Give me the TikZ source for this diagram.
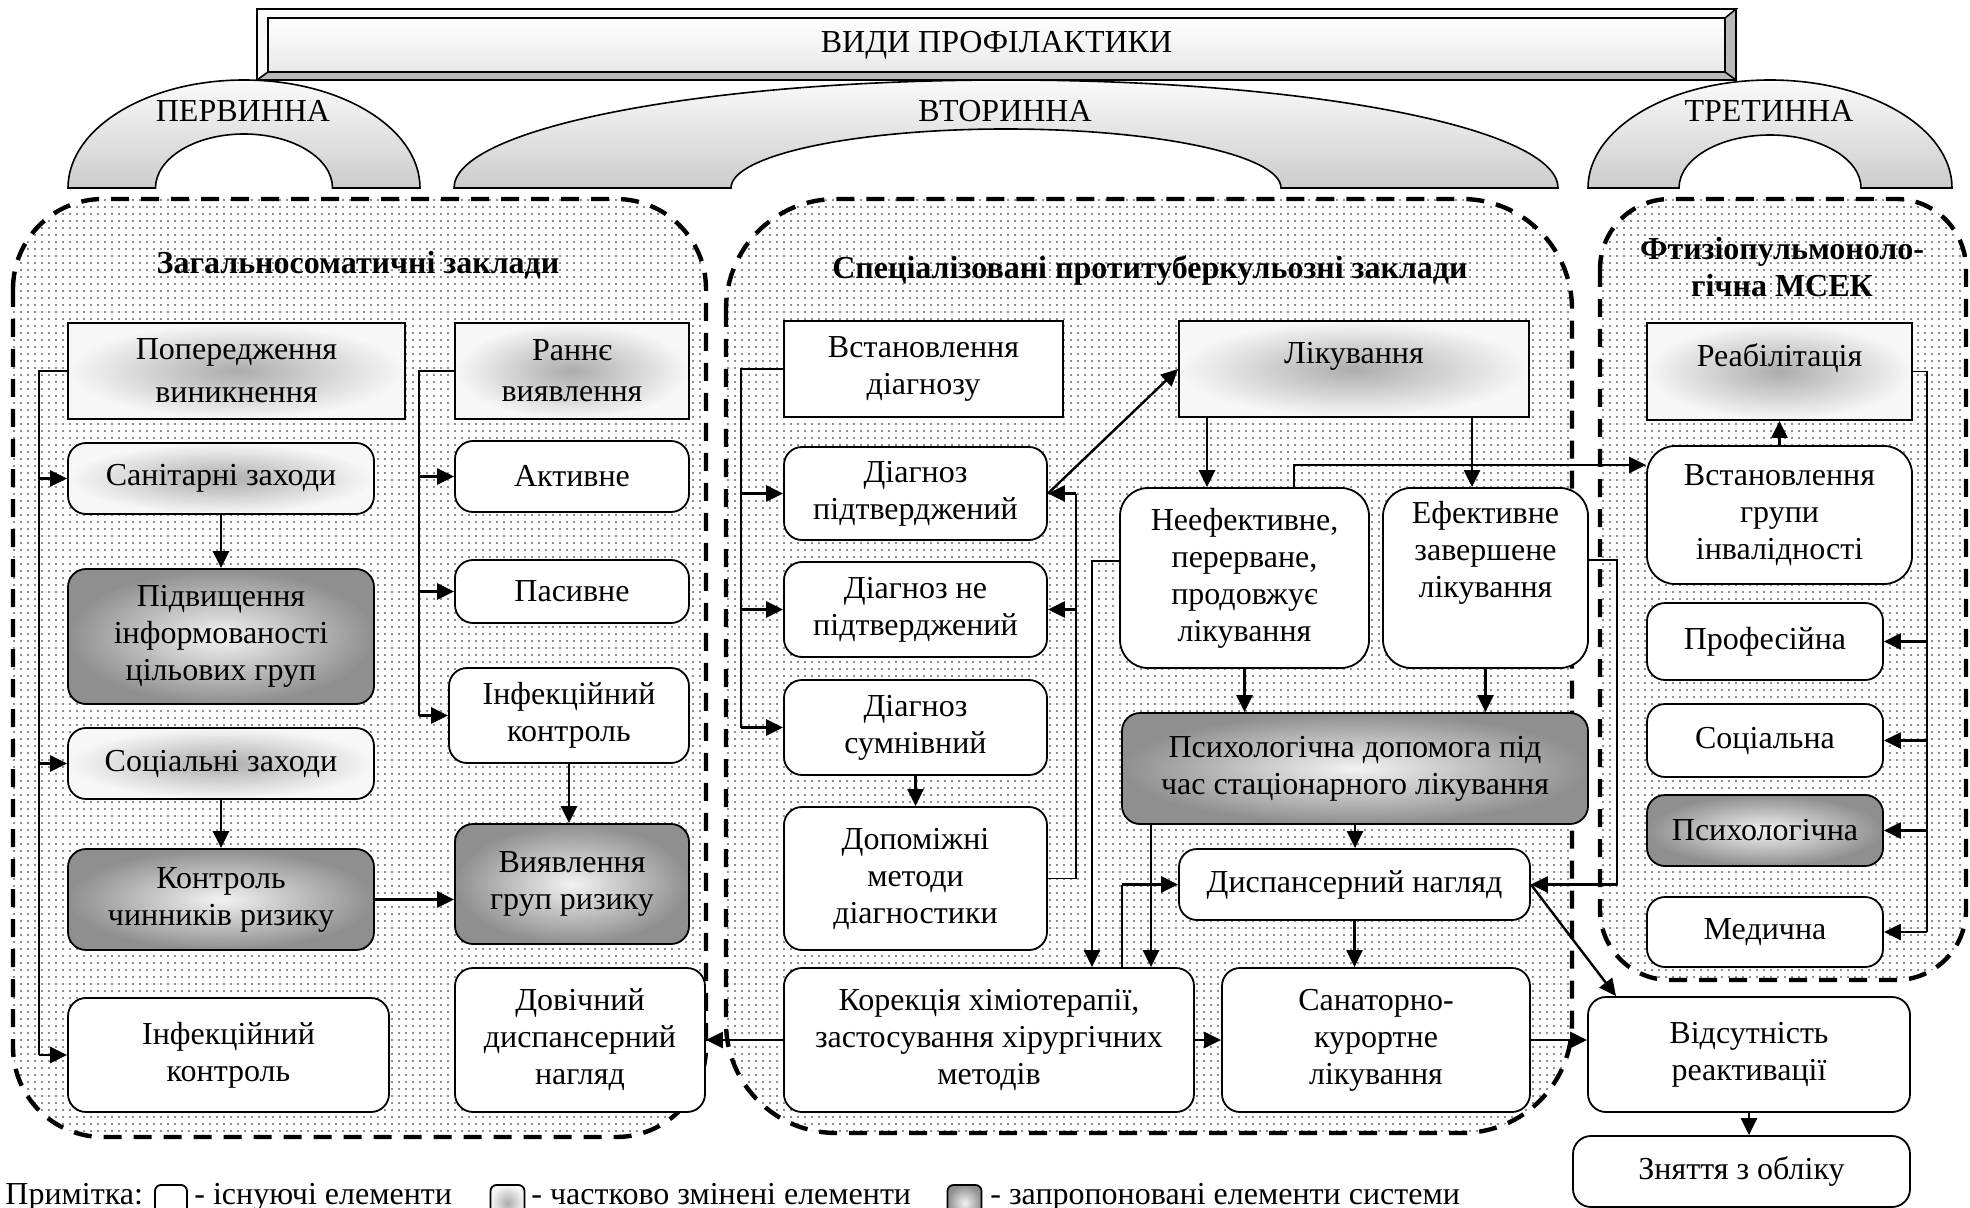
\documentclass[tikz,border=0pt]{standalone}
\usepackage{fontspec}
\setmainfont{Liberation Serif}
\usetikzlibrary{arrows.meta, calc, patterns.meta, positioning}

\begin{document}
\begin{tikzpicture}[x=0.5pt, y=-0.5pt,
    every node/.style={font=\fontsize{16}{18.5}\selectfont, align=center, inner sep=2pt},
    box/.style={draw, line width=0.9pt},
    oldbox/.style={box, rounded corners=9pt, fill=white},
    oldrect/.style={box, fill=white},
    partbox/.style={box, rounded corners=9pt, inner color=gray!65, outer color=gray!6},
    partrect/.style={box, inner color=gray!65, outer color=gray!6},
    newbox/.style={box, rounded corners=9pt, inner color=gray!10, outer color=gray!88},
    head/.style={font=\fontsize{16}{18.5}\selectfont\bfseries},
    toptext/.style={text depth=16pt},
    zone/.style={line width=2.2pt, dash pattern=on 9pt off 6pt,
        pattern={Dots[distance=3.5pt, radius=0.55pt]}, pattern color=black!60},
    arch/.style={draw, line width=0.8pt, top color=gray!4, bottom color=gray!40},
    arr/.style={-{Triangle[length=8.5pt, width=8pt]}, line width=1.2pt},
    link/.style={line width=0.7pt}]
    \useasboundingbox (0,0) rectangle (1970,1208);

    % dotted zones
    \draw[zone, rounded corners=45pt] (13,199) rectangle (706,1137);
    \draw[zone, rounded corners=55pt] (726,199) rectangle (1572,1133);
    \draw[zone, rounded corners=35pt] (1600,199) rectangle (1966,980);

    % banner
    \filldraw[line width=0.8pt, fill=gray!55] (257,9) rectangle (1736,80);
    \filldraw[line width=0.8pt, fill=gray!5] (257,9) -- (1736,9) -- (1725,18) -- (268,18) -- (268,72) -- (257,80) -- cycle;
    \draw[line width=0.8pt] (1725,72) -- (1736,80);
    \node[box, top color=white, bottom color=gray!18, minimum width=728.5pt, minimum height=27pt] (kinds) at (996.5,45) {ВИДИ ПРОФІЛАКТИКИ};

    % arches
    \draw[arch] (68,188) arc[start angle=180, end angle=0, x radius=88pt, y radius=54pt]
        -- (332.5,188) arc[start angle=0, end angle=180, x radius=44.25pt, y radius=27pt] -- cycle;
    \draw[arch] (454,188) arc[start angle=180, end angle=0, x radius=276pt, y radius=54pt]
        -- (1281,188) arc[start angle=0, end angle=180, x radius=137.5pt, y radius=29.5pt] -- cycle;
    \draw[arch] (1588,188) arc[start angle=180, end angle=0, x radius=91pt, y radius=54pt]
        -- (1861,188) arc[start angle=0, end angle=180, x radius=45.5pt, y radius=26.5pt] -- cycle;
    \node (lvl1) at (243,111) {ПЕРВИННА};
    \node (lvl2) at (1005,111) {ВТОРИННА};
    \node (lvl3) at (1769,111) {ТРЕТИННА};

    % headings
    \node[head] (zone1) at (358,265) {Загальносоматичні заклади};
    \node[head] (zone2) at (1150,271) {Спеціалізовані протитуберкульозні заклади};
    \node[head] (zone3) at (1782,267) {Фтизіопульмоноло-\\гічна МСЕК};

    % general institutions
    \node[partrect, minimum width=168.5pt, minimum height=48pt] (prevent) at (236.5,371) {Попередження\\[3pt]виникнення};
    \node[partrect, minimum width=117pt, minimum height=48pt] (early) at (572,371) {Раннє\\[2pt]виявлення};
    \node[partbox, minimum width=153pt, minimum height=35.5pt] (sanit) at (221,478.5) {Санітарні заходи};
    \node[oldbox, minimum width=117pt, minimum height=35.5pt] (active) at (572,476.5) {Активне};
    \node[newbox, minimum width=153pt, minimum height=67.5pt] (inform) at (221,636.5) {Підвищення\\інформованості\\цільових груп};
    \node[oldbox, minimum width=117pt, minimum height=31.5pt] (passive) at (572,591.5) {Пасивне};
    \node[oldbox, minimum width=120pt, minimum height=47.5pt] (infctrlA) at (569,715.5) {Інфекційний\\контроль};
    \node[partbox, minimum width=153pt, minimum height=35.5pt] (social) at (221,763.5) {Соціальні заходи};
    \node[newbox, minimum width=153pt, minimum height=50.5pt] (riskctrl) at (221,899.5) {Контроль\\чинників ризику};
    \node[newbox, minimum width=117pt, minimum height=60pt] (riskgrp) at (572,884) {Виявлення\\груп ризику};
    \node[oldbox, minimum width=160.5pt, minimum height=57pt] (infctrlB) at (228.5,1055) {Інфекційний\\контроль};
    \node[oldbox, minimum width=125pt, minimum height=72pt] (lifelong) at (580,1040) {Довічний\\диспансерний\\нагляд};

    % tuberculosis institutions
    \node[oldrect, minimum width=139.5pt, minimum height=48pt] (diag) at (923.5,369) {Встановлення\\діагнозу};
    \node[partrect, toptext, minimum width=175pt, minimum height=48pt] (treat) at (1354,369) {Лікування};
    \node[oldbox, minimum width=131.5pt, minimum height=46.5pt] (dconf) at (915.5,493.5) {Діагноз\\підтверджений};
    \node[oldbox, minimum width=131.5pt, minimum height=47.5pt] (dnot) at (915.5,609.5) {Діагноз не\\підтверджений};
    \node[oldbox, minimum width=131.5pt, minimum height=47.5pt] (ddoubt) at (915.5,727.5) {Діагноз\\сумнівний};
    \node[oldbox, minimum width=131.5pt, minimum height=71.5pt] (aux) at (915.5,878.5) {Допоміжні\\методи\\діагностики};
    \node[oldbox, minimum width=205pt, minimum height=72pt] (correct) at (989,1040) {Корекція хіміотерапії,\\застосування хірургічних\\методів};
    \node[oldbox, minimum width=154pt, minimum height=72pt] (sanat) at (1376,1040) {Санаторно-\\курортне\\лікування};
    \node[oldbox, minimum width=175.5pt, minimum height=35.5pt] (dispens) at (1354.5,884.5) {Диспансерний нагляд};
    \node[newbox, minimum width=233pt, minimum height=55.5pt] (psyhelp) at (1355,768.5) {Психологічна допомога під\\час стаціонарного лікування};
    \node[oldbox, rounded corners=14pt, minimum width=124.5pt, minimum height=90pt] (ineff) at (1244.5,578) {Неефективне,\\перерване,\\продовжує\\лікування};
    \node[oldbox, rounded corners=14pt, minimum width=102.5pt, minimum height=90pt] (eff) at (1485.5,578) {Ефективне\\завершене\\лікування\\[10pt]};

    % MSEK
    \node[partrect, toptext, minimum width=132.5pt, minimum height=48.5pt] (rehab) at (1779.5,371.5) {Реабілітація};
    \node[oldbox, rounded corners=14pt, minimum width=132.5pt, minimum height=69pt] (disab) at (1779.5,515) {Встановлення\\групи\\інвалідності};
    \node[oldbox, minimum width=118pt, minimum height=38.5pt] (prof) at (1765,641.5) {Професійна};
    \node[oldbox, minimum width=118pt, minimum height=36.5pt] (socr) at (1765,740.5) {Соціальна};
    \node[newbox, minimum width=118pt, minimum height=35.5pt] (psyr) at (1765,830.5) {Психологічна};
    \node[oldbox, minimum width=118pt, minimum height=35pt] (med) at (1765,932) {Медична};
    \node[oldbox, minimum width=161pt, minimum height=57.5pt] (noreact) at (1749,1054.5) {Відсутність\\реактивації};
    \node[oldbox, minimum width=168.5pt, minimum height=35.5pt] (dereg) at (1741.5,1171.5) {Зняття з обліку};

    % trunks
    \coordinate (pvtrunk) at (39,0);
    \coordinate (evtrunk) at (419,0);
    \coordinate (dgtrunk) at (741,0);
    \coordinate (axtrunk) at (1076,0);
    \coordinate (iftrunk) at (1092,0);
    \coordinate (crtrunk) at (1122,0);
    \coordinate (phtrunk) at (1151,0);
    \coordinate (tiX) at (1207,0);
    \coordinate (idX) at (1294,0);
    \coordinate (teX) at (1472,0);
    \coordinate (eftrunk) at (1617,0);
    \coordinate (rhtrunk) at (1927,0);

    % general connectors
    \draw[link] (prevent.west) -| (infctrlB.west -| pvtrunk);
    \foreach \t in {sanit, social, infctrlB}
        \draw[arr] (\t.west -| pvtrunk) -- (\t.west);
    \draw[link] (early.west) -| (infctrlA.west -| evtrunk);
    \foreach \t in {active, passive, infctrlA}
        \draw[arr] (\t.west -| evtrunk) -- (\t.west);
    \draw[arr] (sanit.south) -- (inform.north);
    \draw[arr] (social.south) -- (riskctrl.north);
    \draw[arr] (infctrlA.south) -- (infctrlA.south |- riskgrp.north);
    \draw[arr] (riskctrl.east) -- (riskctrl.east -| riskgrp.west);

    % diagnosis connectors
    \draw[link] (diag.west) -| (ddoubt.west -| dgtrunk);
    \foreach \t in {dconf, dnot, ddoubt}
        \draw[arr] (\t.west -| dgtrunk) -- (\t.west);
    \draw[arr] (dconf.east) -- (treat.west);
    \draw[link] (aux.east) -| (dconf.east -| axtrunk);
    \draw[arr] (dconf.east -| axtrunk) -- (dconf.east);
    \draw[arr] (dnot.east -| axtrunk) -- (dnot.east);
    \draw[arr] (ddoubt.south) -- (aux.north);

    % treatment connectors
    \draw[arr] (treat.south -| tiX) -- (ineff.north -| tiX);
    \draw[arr] (treat.south -| teX) -- (eff.north -| teX);
    \draw[arr] (ineff.north -| idX) |- ([yshift=25pt]disab.west);
    \draw[arr] ([yshift=8.5pt]ineff.west) -| (correct.north -| iftrunk);
    \draw[link] ([yshift=9pt]eff.east) -| (dispens.east -| eftrunk);
    \draw[arr] (dispens.east -| eftrunk) -- (dispens.east);
    \draw[arr] (ineff.south) -- (ineff.south |- psyhelp.north);
    \draw[arr] (eff.south) -- (eff.south |- psyhelp.north);
    \draw[arr] (psyhelp.south) -- (psyhelp.south |- dispens.north);
    \draw[arr] (psyhelp.south -| phtrunk) -- (correct.north -| phtrunk);
    \draw[link] (correct.north -| crtrunk) -- (dispens.west -| crtrunk);
    \draw[arr] (dispens.west -| crtrunk) -- (dispens.west);
    \draw[arr] (dispens.south) -- (dispens.south |- sanat.north);
    \draw[arr] (correct.east) -- (sanat.west);
    \draw[arr] (correct.west) -- (correct.west -| lifelong.east);
    \draw[arr] (sanat.east) -- (sanat.east -| noreact.west);
    \draw[arr] (dispens.east) -- ([xshift=-66.5pt]noreact.north);
    \draw[arr] (noreact.south) -- (noreact.south |- dereg.north);

    % rehabilitation connectors
    \draw[arr] (disab.north) -- (rehab.south);
    \draw[link] (rehab.east) -| (med.east -| rhtrunk);
    \foreach \t in {prof, socr, psyr, med}
        \draw[arr] (\t.east -| rhtrunk) -- (\t.east);

    % legend
    \node[anchor=base west, inner sep=0pt] (note) at (5,1204) {Примітка:};
    \node[oldbox, rounded corners=3pt, minimum width=16pt, minimum height=18pt] (keyold) at (171,1203) {};
    \node[anchor=base west, inner sep=0pt] (keyoldtxt) at (194,1204) {- існуючі елементи};
    \node[partbox, rounded corners=3pt, minimum width=17pt, minimum height=18pt] (keypart) at (507.5,1203) {};
    \node[anchor=base west, inner sep=0pt] (keyparttxt) at (531,1204) {- частково змінені елементи};
    \node[newbox, rounded corners=3pt, minimum width=17pt, minimum height=18pt] (keynew) at (964.5,1203) {};
    \node[anchor=base west, inner sep=0pt] (keynewtxt) at (990,1204) {- запропоновані елементи системи};
\end{tikzpicture}
\end{document}
